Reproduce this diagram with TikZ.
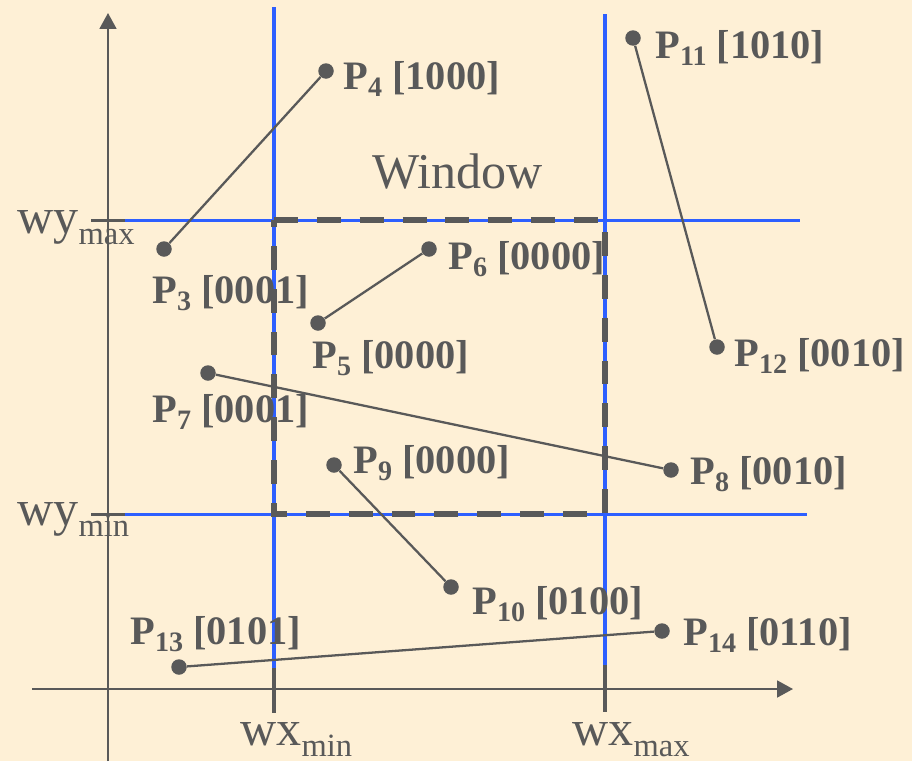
\documentclass[tikz,border=0pt]{standalone}
\usepackage{fontspec}
\setmainfont{Liberation Serif}
\usetikzlibrary{arrows.meta}
\definecolor{bg}{RGB}{254,240,214}
\definecolor{ink}{RGB}{89,89,89}
\definecolor{wblue}{RGB}{45,95,255}
\newcommand\plabel[2]{\fontsize{23}{23}\selectfont\bfseries P\raisebox{-4.5pt}{\fontsize{16}{16}\selectfont #1} [#2]}
\newcommand\wlabel[2]{\fontsize{28.5}{28.5}\selectfont #1\raisebox{-6.3pt}{\fontsize{18.5}{18.5}\selectfont #2}}
\begin{document}
\begin{tikzpicture}[x=0.02cm,y=-0.02cm,
  dot/.style={circle,fill=ink,inner sep=0pt,minimum size=0.31cm},
  seg/.style={draw=ink,line width=1.3pt},
  lab/.style={anchor=base west,inner sep=0pt,text=ink},
  axis/.style={draw=ink,line width=1.3pt,-{Triangle[length=9pt,width=9.5pt]}},
  gridline/.style={draw=wblue,line width=1.8pt},
  tickmark/.style={draw=ink,line width=2pt},
  win/.style={draw=ink,line width=3.2pt,dash pattern=on 13.6pt off 10.8pt}]
\fill[bg] (0,0) rectangle (912,761);
\useasboundingbox (0,0) rectangle (912,761);
% blue window boundary lines
\coordinate (ymaxA) at (118,220.5); \coordinate (ymaxB) at (800,220.5);
\coordinate (yminA) at (118,514.3); \coordinate (yminB) at (807,514.3);
\coordinate (xminA) at (274,7);     \coordinate (xminB) at (274,668);
\coordinate (xmaxA) at (605,14);    \coordinate (xmaxB) at (605,665);
\draw[gridline] (ymaxA) -- (ymaxB);
\draw[gridline] (yminA) -- (yminB);
\draw[gridline] (xminA) -- (xminB);
\draw[gridline] (xmaxA) -- (xmaxB);
% ticks
\coordinate (t1a) at (91,220.5); \coordinate (t1b) at (125,220.5);
\coordinate (t2a) at (91,514.3); \coordinate (t2b) at (125,514.3);
\coordinate (t3b) at (274,713);
\coordinate (t4b) at (605,712);
\draw[tickmark] (t1a) -- (t1b);
\draw[tickmark] (t2a) -- (t2b);
\draw[tickmark] (xminB) -- (t3b);
\draw[tickmark] (xmaxB) -- (t4b);
% axes
\coordinate (yb) at (108,761); \coordinate (yt) at (108,13);
\coordinate (xl) at (32,689);  \coordinate (xr) at (793,689);
\draw[axis] (yb) -- (yt);
\draw[axis] (xl) -- (xr);
% window
\coordinate (w1) at (274,220); \coordinate (w2) at (605,220);
\coordinate (w3) at (605,514); \coordinate (w4) at (274,514);
\draw[win] (w1) -- (w2) -- (w3) -- (w4) -- cycle;
\node[lab,font=\fontsize{28.5}{28.5}\selectfont] (wintext) at (372,188) {Window};
% axis labels
\node[lab] (wymax) at (17,233) {\wlabel{wy}{max}};
\node[lab] (wymin) at (17,525) {\wlabel{wy}{min}};
\node[lab] (wxmin) at (240,745) {\wlabel{wx}{min}};
\node[lab] (wxmax) at (572,745) {\wlabel{wx}{max}};
% points
\node[dot] (p3) at (164,249) {};
\node[dot] (p4) at (326,71) {};
\node[dot] (p5) at (318,323) {};
\node[dot] (p6) at (429,249) {};
\node[dot] (p7) at (208,373) {};
\node[dot] (p8) at (671,470) {};
\node[dot] (p9) at (334,465) {};
\node[dot] (p10) at (451,587) {};
\node[dot] (p11) at (633,38) {};
\node[dot] (p12) at (717,347) {};
\node[dot] (p13) at (179,667) {};
\node[dot] (p14) at (662,631) {};
\draw[seg] (p3) -- (p4);
\draw[seg] (p5) -- (p6);
\draw[seg] (p7) -- (p8);
\draw[seg] (p9) -- (p10);
\draw[seg] (p11) -- (p12);
\draw[seg] (p13) -- (p14);
% point labels
\node[lab] (l3) at (152,303) {\plabel{3}{0001}};
\node[lab] (l4) at (343,89) {\plabel{4}{1000}};
\node[lab] (l5) at (312,368) {\plabel{5}{0000}};
\node[lab] (l6) at (448,269) {\plabel{6}{0000}};
\node[lab] (l7) at (152,422) {\plabel{7}{0001}};
\node[lab] (l8) at (690,484) {\plabel{8}{0010}};
\node[lab] (l9) at (353,473) {\plabel{9}{0000}};
\node[lab] (l10) at (472,614) {\plabel{10}{0100}};
\node[lab] (l11) at (655,58) {\plabel{11}{1010}};
\node[lab] (l12) at (734,366) {\plabel{12}{0010}};
\node[lab] (l13) at (130,644) {\plabel{13}{0101}};
\node[lab] (l14) at (683,645) {\plabel{14}{0110}};
\end{tikzpicture}
\end{document}
